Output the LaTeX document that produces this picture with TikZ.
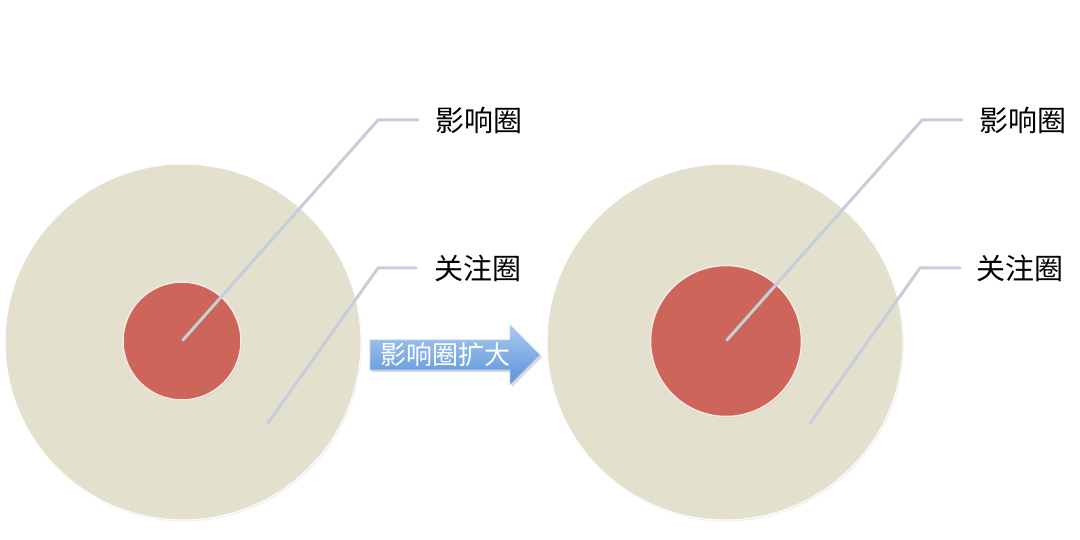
\documentclass[tikz,border=0pt]{standalone}
\usepackage{fontspec}
\newfontfamily\cjk{Noto Sans CJK SC}
\usetikzlibrary{shadows}
\definecolor{beige}{HTML}{E3E0CD}
\definecolor{redc}{HTML}{CD655A}
\definecolor{leader}{HTML}{C6CEDA}
\definecolor{arrtop}{HTML}{A9CBF0}
\definecolor{arrbot}{HTML}{5A92DA}
\begin{document}
\begin{tikzpicture}[x=1pt,y=-1pt,
  bigc/.style={circle,fill=beige,draw=white,line width=1pt,minimum size=356pt,inner sep=0pt,
    drop shadow={shadow xshift=1pt,shadow yshift=-1.5pt,fill=black!12}},
  smallc/.style={circle,fill=redc,draw=white!85!redc,line width=1.5pt,inner sep=0pt,
    drop shadow={shadow xshift=1pt,shadow yshift=-1.5pt,fill=black!20}},
  leadline/.style={draw=leader,line width=3pt,line cap=round},
  lbl/.style={font=\cjk\fontsize{29}{32}\selectfont,text=black,anchor=west,inner sep=0pt}]
\useasboundingbox (0,0) rectangle (1080,540);
\fill[white] (0,0) rectangle (1080,540);
% left
\node[bigc] (L) at (183,342) {};
\node[smallc,minimum size=118pt] (Ls) at (182,341) {};
\coordinate (L1a) at (183,340);
\coordinate (L1b) at (378,120);
\coordinate (L1c) at (418,120);
\node[lbl] (Lt1) at (435,120) {影响圈};
\coordinate (L2a) at (268,423);
\coordinate (L2b) at (378,268);
\coordinate (L2c) at (416,268);
\node[lbl] (Lt2) at (434,268) {关注圈};
\draw[leadline] (L1a) -- (L1b) -- (L1c);
\draw[leadline] (L2a) -- (L2b) -- (L2c);
% right
\node[bigc] (R) at (725,342) {};
\node[smallc,minimum size=151pt] (Rs) at (726,341) {};
\coordinate (R1a) at (727,340);
\coordinate (R1b) at (922,120);
\coordinate (R1c) at (962,120);
\node[lbl] (Rt1) at (979,120) {影响圈};
\coordinate (R2a) at (810,423);
\coordinate (R2b) at (920,268);
\coordinate (R2c) at (960,268);
\node[lbl] (Rt2) at (976,268) {关注圈};
\draw[leadline] (R1a) -- (R1b) -- (R1c);
\draw[leadline] (R2a) -- (R2b) -- (R2c);
% arrow
\fill[black!15] (372,342) -- (512,342) -- (512,327) -- (542,357) -- (512,387) -- (512,372) -- (372,372) -- cycle;
\shade[top color=arrtop,bottom color=arrbot,draw=white!60!arrbot,line width=0.6pt]
  (370,340) -- (510,340) -- (510,325) -- (540,355) -- (510,385) -- (510,370) -- (370,370) -- cycle;
\node[font=\cjk\fontsize{26}{28}\selectfont,text=white,inner sep=0pt] (At) at (445,355) {影响圈扩大};
\end{tikzpicture}
\end{document}
